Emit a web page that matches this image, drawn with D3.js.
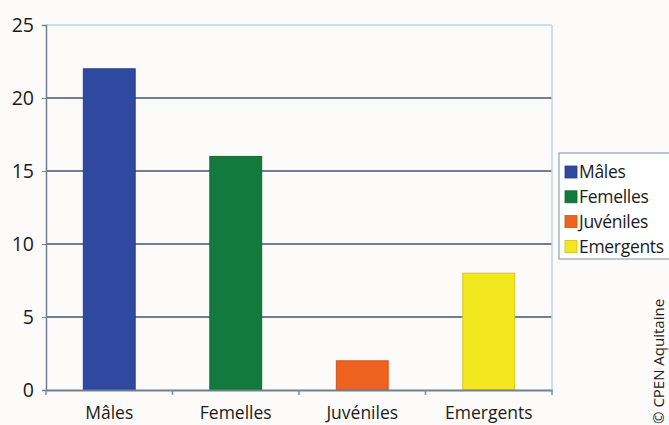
<!DOCTYPE html>
<html>
<head>
<meta charset="utf-8">
<script src="https://cdn.jsdelivr.net/npm/d3@7"></script>
<style>
  body { margin: 0; background: #fdfbf9; }
  svg { display: block; }
  text { font-family: "Open Sans", "Noto Sans", sans-serif; fill: #1a1a1a; }
</style>
</head>
<body>
<div id="vis"></div>
<script>
var categories = ['Mâles', 'Femelles', 'Juvéniles', 'Emergents'];
var values = [22, 16, 2, 8];
var colors = ['#2f48a0', '#127a3c', '#ee6320', '#f3e81e'];
var yTicks = [0, 5, 10, 15, 20, 25];

var width = 669;
var height = 425;
var margin = { top: 25, right: 117, bottom: 35, left: 46 };

var svg = d3.select('#vis')
  .append('svg')
  .attr('width', width)
  .attr('height', height);

var x = d3.scaleBand()
  .domain(categories)
  .range([margin.left, width - margin.right])
  .paddingInner(0.59)
  .paddingOuter(0.295);

var y = d3.scaleLinear()
  .domain([0, 25])
  .range([height - margin.bottom, margin.top]);

// gridlines
svg.append('g')
  .selectAll('line')
  .data(yTicks.filter(function(d) { return d > 0; }))
  .enter().append('line')
  .attr('x1', margin.left)
  .attr('x2', width - margin.right)
  .attr('y1', function(d) { return y(d); })
  .attr('y2', function(d) { return y(d); })
  .attr('stroke', function(d) { return d === 25 ? '#bcd6e8' : '#6f8190'; })
  .attr('stroke-width', function(d) { return d === 25 ? 1.5 : 2; });

// right border
svg.append('line')
  .attr('x1', width - margin.right).attr('x2', width - margin.right)
  .attr('y1', y(25)).attr('y2', y(0))
  .attr('stroke', '#bcd6e8').attr('stroke-width', 1.5);

// bars
svg.append('g')
  .selectAll('rect')
  .data(values)
  .enter().append('rect')
  .attr('x', function(d, i) { return x(categories[i]); })
  .attr('width', x.bandwidth())
  .attr('y', function(d) { return y(d); })
  .attr('height', function(d) { return y(0) - y(d); })
  .attr('fill', function(d, i) { return colors[i]; })
  .attr('stroke', function(d, i) { return d3.color(colors[i]).darker(0.4); })
  .attr('stroke-width', 1);

// y axis
var yAxis = svg.append('g')
  .attr('transform', 'translate(' + margin.left + ',0)')
  .call(d3.axisLeft(y).tickValues(yTicks).tickSize(4).tickPadding(8));
yAxis.select('.domain').attr('stroke', '#6f8190').attr('stroke-width', 1.5);
yAxis.selectAll('.tick line').attr('stroke', '#6f8190');
yAxis.selectAll('text').attr('font-size', 19.5).style('font-family', '"Open Sans", sans-serif').attr('fill', '#1a1a1a');

// x axis
var xAxis = svg.append('g')
  .attr('transform', 'translate(0,' + y(0) + ')')
  .call(d3.axisBottom(x).tickSize(0).tickPadding(17));
xAxis.select('.domain').attr('stroke', '#6f8190').attr('stroke-width', 2);
xAxis.selectAll('text').attr('font-size', 17.5).style('font-family', '"Open Sans", sans-serif').attr('fill', '#1a1a1a');

// boundary ticks
var step = x.step();
svg.append('g')
  .selectAll('line')
  .data(d3.range(categories.length + 1))
  .enter().append('line')
  .attr('x1', function(i) { return margin.left + i * step; })
  .attr('x2', function(i) { return margin.left + i * step; })
  .attr('y1', y(0))
  .attr('y2', y(0) + 5)
  .attr('stroke', '#6f8fae').attr('stroke-width', 1.5);

// legend
var legend = svg.append('g').attr('transform', 'translate(559,153)');
legend.append('rect')
  .attr('width', 115).attr('height', 106)
  .attr('fill', '#ffffff').attr('stroke', '#8aa6b8').attr('stroke-width', 1.2);
var items = legend.selectAll('g.item')
  .data(categories)
  .enter().append('g')
  .attr('class', 'item')
  .attr('transform', function(d, i) { return 'translate(6,' + (19 + i * 24.8) + ')'; });
items.append('rect')
  .attr('x', 0).attr('y', -6)
  .attr('width', 12).attr('height', 12)
  .attr('fill', function(d, i) { return colors[i]; })
  .attr('stroke', function(d, i) { return d3.color(colors[i]).darker(0.5); })
  .attr('stroke-width', 0.8);
items.append('text')
  .attr('x', 14)
  .attr('dy', '0.35em')
  .attr('font-size', 17.5)
  .attr('letter-spacing', -0.3)
  .text(function(d) { return d; });

// credit
svg.append('text')
  .attr('transform', 'translate(664,424) rotate(-90)')
  .attr('font-size', 15)
  .text('© CPEN Aquitaine');
</script>
</body>
</html>
